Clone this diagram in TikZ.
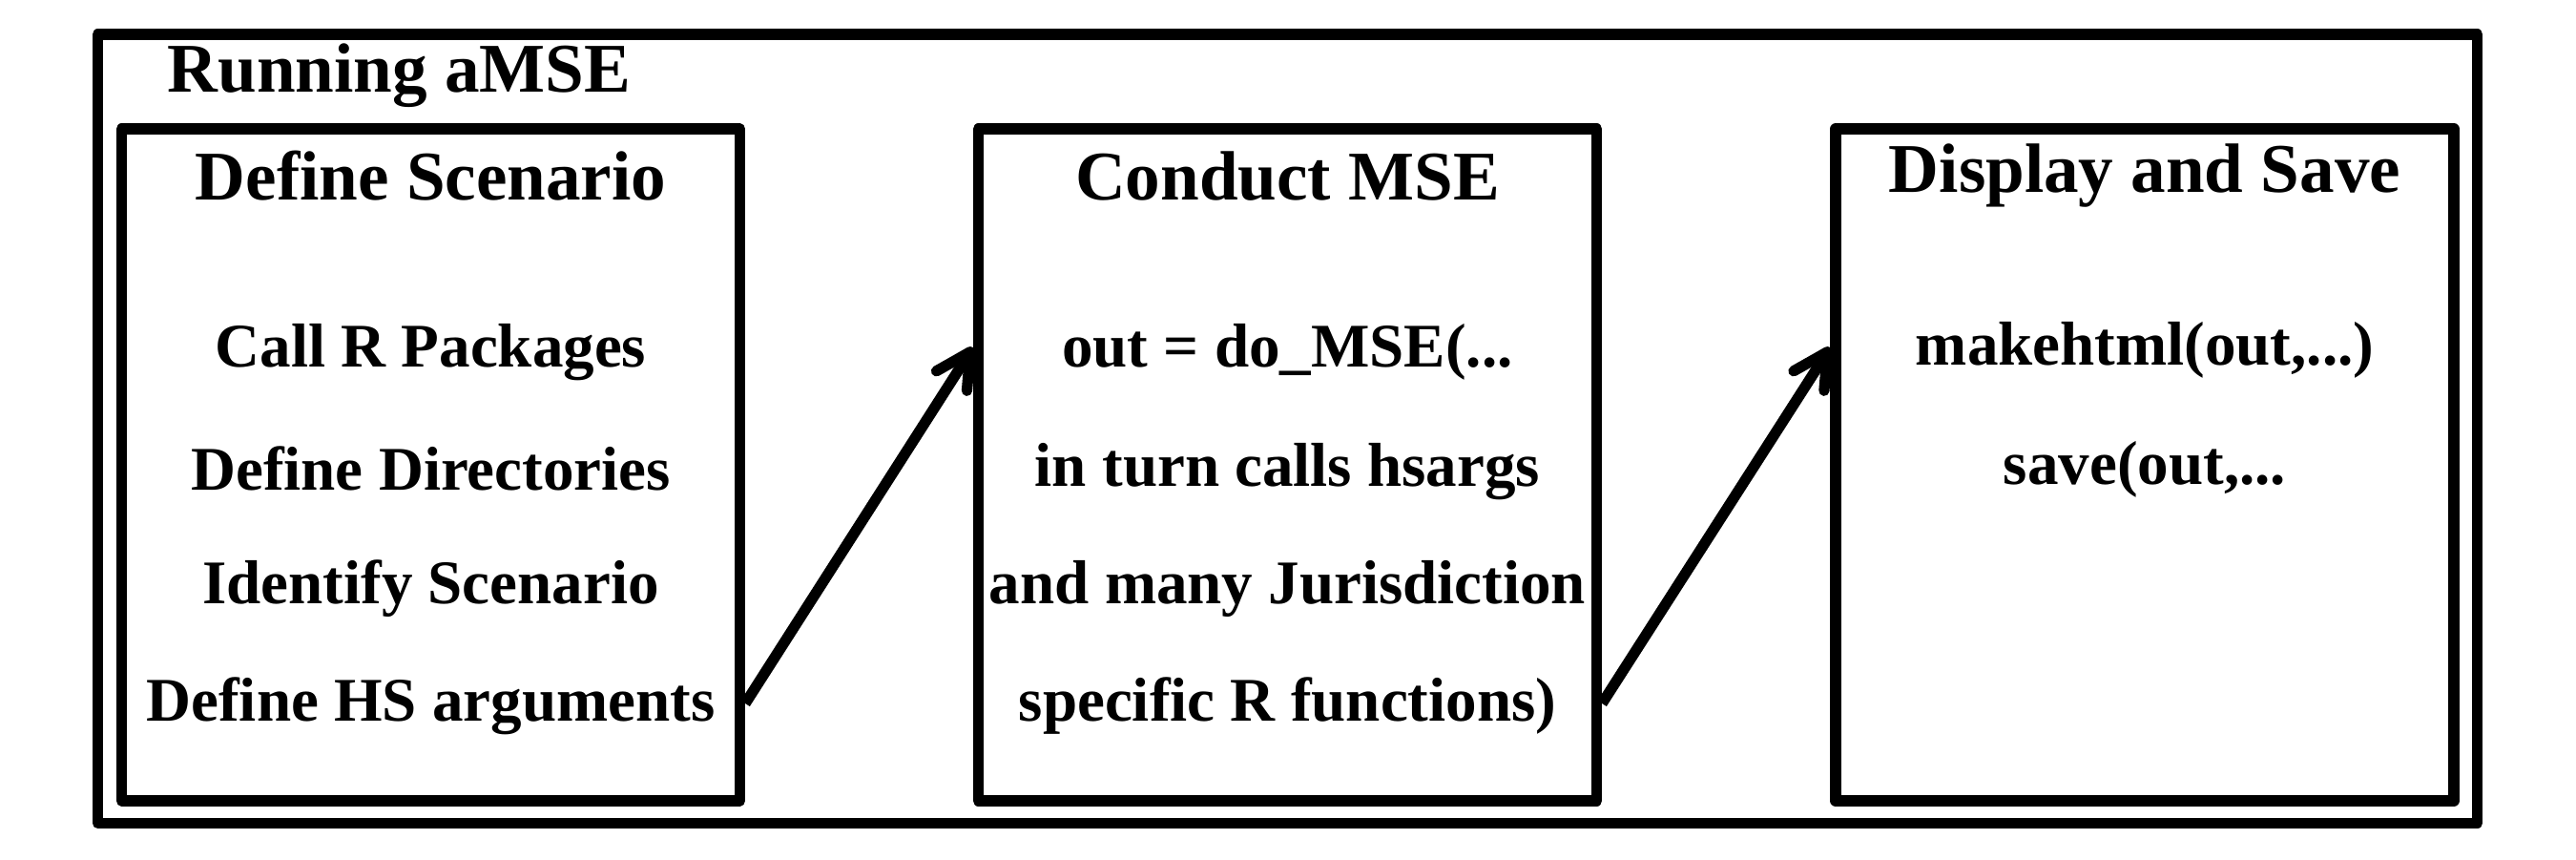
\documentclass[tikz,border=0pt]{standalone}
\usepackage{fontspec}
\setmainfont{Liberation Serif}
\usetikzlibrary{positioning}
\usetikzlibrary{arrows.meta}
\tikzset{
    frame/.style = {rectangle, draw=black, line width=3.2pt, line join=round, inner sep=0pt},
    stage/.style = {frame, minimum width=6.48cm, minimum height=7.04cm},
    heading/.style = {anchor=base, inner sep=0pt, font=\bfseries\fontsize{20.8}{24}\selectfont},
    step line/.style = {anchor=base, inner sep=0pt, font=\bfseries\fontsize{18.5}{22}\selectfont},
    flow/.style = {-{Straight Barb[length=3.6mm,width=3.8mm,round]}, line width=3.2pt},
}

\begin{document}
\begin{tikzpicture}
\useasboundingbox (0,0) rectangle (27,9);
%
\node[frame, minimum width=24.94cm, minimum height=8.265cm] at (13.495, 4.5075) (run) {};
\node[heading, anchor=base west] at (1.75, 8.03) (runlabel) {Running aMSE};
%
\node[stage] at (4.515, 4.13) (define) {};
\node[stage] at (13.495, 4.13) (conduct) {};
\node[stage] at (22.48, 4.13) (display) {};
%
\node[heading] at (4.515, 6.90) (definehead) {Define Scenario};
\node[step line] at (4.515, 5.16) (d1) {Call R Packages};
\node[step line] at (4.515, 3.87) (d2) {Define Directories};
\node[step line] at (4.515, 2.68) (d3) {Identify Scenario};
\node[step line] at (4.515, 1.45) (d4) {Define HS arguments};
%
\node[heading] at (13.495, 6.90) (conducthead) {Conduct MSE};
\node[step line] at (13.495, 5.16) (c1) {out = do\_MSE(...};
\node[step line] at (13.495, 3.91) (c2) {in turn calls hsargs};
\node[step line] at (13.495, 2.68) (c3) {and many Jurisdiction};
\node[step line] at (13.495, 1.45) (c4) {specific R functions)};
%
\node[heading] at (22.48, 6.98) (displayhead) {Display and Save};
\node[step line] at (22.48, 5.18) (s1) {makehtml(out,...)};
\node[step line] at (22.48, 3.93) (s2) {save(out,...};
%
\draw[flow] ([yshift=-2.5cm]define.east) -- ([yshift=1.23cm]conduct.west);
\draw[flow] ([yshift=-2.5cm]conduct.east) -- ([yshift=1.23cm]display.west);

\end{tikzpicture}
\end{document}
